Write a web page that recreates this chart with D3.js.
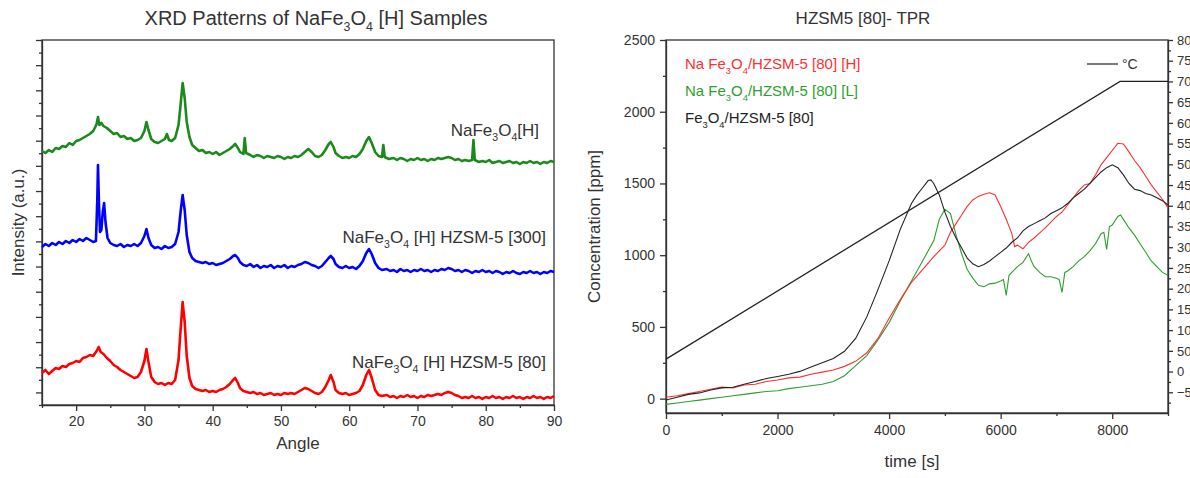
<!DOCTYPE html>
<html>
<head>
<meta charset="utf-8">
<script src="https://cdnjs.cloudflare.com/ajax/libs/d3/7.8.5/d3.min.js"></script>
<style>
  body { margin: 0; background: #fff; }
  svg text { font-family: "Liberation Sans", Arial, sans-serif; fill: #333; }
  .axis path, .axis line { stroke: #333; stroke-width: 1.3; }
  .axis text { font-size: 14px; fill: #333; }
</style>
</head>
<body>
<svg id="chart" width="1190" height="478"></svg>
<script>
// ---------- XRD data (angle, intensity a.u.) ----------
const xrdH = [[15,271],[15.5,269],[16,272],[16.5,270],[17,274],[17.5,273],[18,276],[18.5,275],[19,279],[19.5,277],
  [20,281],[20.5,282],[21,284],[21.5,286],[22,288],[22.5,291],[22.8,295],[23,298],[23.2,305],[23.4,297],[23.7,299],
  [24,296],[24.5,294],[25,291],[25.5,288],[26,289],[26.5,285],[27,286],[27.5,283],[28,284],[28.5,281],[29,282],
  [29.5,284],[30,291],[30.3,300],[30.6,292],[31,283],[31.5,280],[32,279],[32.5,281],[33,283],[33.3,288],[33.6,282],
  [34,281],[34.5,284],[35,297],[35.3,317],[35.6,339],[35.9,324],[36.2,300],[36.6,285],[37,277],[37.5,274],[38,271],
  [38.5,272],[39,269],[39.5,270],[40,268],[40.5,270],[41,267],[41.5,269],[42,271],[42.5,273],[43,276],[43.3,278],
  [43.7,274],[44,270],[44.5,268],[44.7,284],[44.9,269],[45.5,267],[46,265],[46.5,267],[47,266],[47.5,264],[48,266],
  [48.5,265],[49,264],[49.5,266],[50,265],[50.5,263],[51,265],[51.5,264],[52,266],[52.5,265],[53,267],[53.5,270],
  [54,273],[54.5,270],[55,266],[55.5,265],[56,267],[56.5,272],[57,278],[57.3,280],[57.7,275],[58,269],[58.5,266],
  [59,264],[59.5,265],[60,264],[60.5,266],[61,265],[61.5,268],[62,273],[62.5,281],[62.9,285],[63.3,279],[63.8,270],
  [64.3,266],[64.8,265],[65,277],[65.2,265],[65.8,263],[66.5,264],[67,262],[67.5,264],[68,263],[68.5,261],[69,263],
  [69.5,262],[70,264],[70.5,262],[71,263],[71.5,261],[72,263],[72.5,262],[73,264],[73.5,263],[74,264],[74.5,265],
  [75,264],[75.5,262],[76,263],[76.5,261],[77,262],[77.5,261],[78,262],[78.2,282],[78.4,262],[79,260],[79.5,261],
  [80,260],[80.5,262],[81,259],[81.5,260],[82,261],[82.5,259],[83,260],[83.5,261],[84,259],[84.5,260],[85,258],
  [85.5,260],[86,259],[86.5,261],[87,259],[87.5,260],[88,258],[88.5,260],[89,259],[89.5,261],[90,260]];

const xrdH300 = [[15,175],[15.5,178],[16,176],[16.5,179],[17,177],[17.5,180],[18,178],[18.5,181],[19,179],[19.5,182],
  [20,180],[20.5,183],[21,181],[21.5,184],[22,182],[22.5,180],[22.9,181],[23.1,222],[23.2,257],[23.35,217],[23.5,190],
  [23.7,192],[23.9,210],[24.1,219],[24.3,200],[24.6,184],[25,179],[25.5,177],[26,176],[26.5,178],[27,175],[27.5,177],
  [28,176],[28.5,178],[29,176],[29.5,179],[30,186],[30.3,193],[30.6,184],[31,177],[31.5,174],[32,175],[32.5,173],
  [33,176],[33.5,174],[34,175],[34.5,178],[35,190],[35.3,210],[35.6,227],[35.9,212],[36.2,187],[36.6,170],[37,164],
  [37.5,161],[38,160],[38.5,159],[39,160],[39.5,158],[40,159],[40.5,157],[41,158],[41.5,159],[42,161],[42.5,163],
  [43,166],[43.3,167],[43.7,164],[44,160],[44.5,157],[45,156],[45.5,158],[46,155],[46.5,157],[47,154],[47.5,156],
  [48,155],[48.5,157],[49,154],[49.5,156],[50,155],[50.5,157],[51,154],[51.5,156],[52,155],[52.5,157],[53,158],
  [53.5,160],[54,159],[54.5,157],[55,156],[55.5,154],[56,156],[56.5,160],[57,164],[57.3,166],[57.7,163],[58,158],
  [58.5,155],[59,154],[59.5,156],[60,154],[60.5,155],[61,153],[61.5,156],[62,161],[62.5,169],[62.9,173],[63.3,168],
  [63.8,159],[64.3,154],[64.8,152],[65.5,153],[66,151],[66.5,152],[67,150],[67.5,153],[68,151],[68.5,152],[69,150],
  [69.5,152],[70,151],[70.5,153],[71,151],[71.5,152],[72,150],[72.5,152],[73,151],[73.5,153],[74,152],[74.5,154],
  [75,153],[75.5,151],[76,152],[76.5,150],[77,152],[77.5,151],[78,149],[78.5,151],[79,150],[79.5,152],[80,150],
  [80.5,151],[81,149],[81.5,151],[82,150],[82.5,148],[83,150],[83.5,149],[84,151],[84.5,149],[85,148],[85.5,150],
  [86,149],[86.5,151],[87,149],[87.5,150],[88,148],[88.5,150],[89,149],[89.5,151],[90,150]];

const xrdH80 = [[15,49],[15.5,52],[16,48],[16.5,51],[17,54],[17.5,53],[18,56],[18.5,55],[19,58],[19.5,59],[20,61],
  [20.5,60],[21,64],[21.5,65],[22,67],[22.5,66],[23,71],[23.3,75],[23.6,70],[24,68],[24.5,64],[25,61],[25.5,57],
  [26,55],[26.5,52],[27,50],[27.5,48],[28,46],[28.5,44],[29,45],[29.5,50],[30,61],[30.3,73],[30.6,60],[31,45],
  [31.5,40],[32,38],[32.5,39],[33,37],[33.5,39],[34,38],[34.5,42],[35,62],[35.3,92],[35.6,120],[35.9,100],[36.2,66],
  [36.6,44],[37,36],[37.5,33],[38,32],[38.5,31],[39,32],[39.5,30],[40,31],[40.5,30],[41,32],[41.5,33],[42,35],
  [42.5,38],[43,42],[43.3,44],[43.7,39],[44,34],[44.5,31],[45,30],[45.5,29],[46,30],[46.5,28],[47,29],[47.5,27],
  [48,28],[48.5,29],[49,27],[49.5,28],[50,27],[50.5,29],[51,28],[51.5,29],[52,28],[52.5,30],[53,32],[53.5,34],
  [54,33],[54.5,31],[55,29],[55.5,28],[56,30],[56.5,35],[57,42],[57.3,47],[57.7,40],[58,32],[58.5,29],[59,28],
  [59.5,29],[60,27],[60.5,28],[61,29],[61.5,31],[62,37],[62.5,47],[62.9,52],[63.3,44],[63.8,32],[64.3,27],[64.8,26],
  [65.5,27],[66,25],[66.5,26],[67,24],[67.5,26],[68,25],[68.5,27],[69,25],[69.5,26],[70,24],[70.5,26],[71,25],
  [71.5,27],[72,26],[72.5,27],[73,28],[73.5,27],[74,29],[74.5,30],[75,29],[75.5,27],[76,26],[76.5,24],[77,25],
  [77.5,24],[78,26],[78.5,24],[79,25],[79.5,23],[80,25],[80.5,24],[81,26],[81.5,24],[82,25],[82.5,23],[83,25],
  [83.5,24],[84,26],[84.5,24],[85,25],[85.5,23],[86,25],[86.5,24],[87,26],[87.5,24],[88,25],[88.5,23],[89,25],
  [89.5,24],[90,26]];

const angleTicks = [20, 30, 40, 50, 60, 70, 80, 90];
const angleMinor = [15, 25, 35, 45, 55, 65, 75, 85];
const intensityRange = [17, 382];
const intensityTickCount = 29;

// ---------- TPR data (time s, concentration ppm) ----------
const tprH = [[0,10],[200,20],[400,35],[600,50],[800,65],[1000,80],[1200,75],[1400,95],[1600,100],[1800,120],
  [2000,130],[2200,145],[2400,150],[2600,170],[2800,185],[3000,200],[3200,225],[3400,260],[3600,320],[3800,420],
  [4000,560],[4200,690],[4400,810],[4600,900],[4800,990],[5000,1070],[5100,1160],[5200,1220],[5300,1280],[5400,1340],
  [5500,1385],[5600,1410],[5700,1425],[5800,1435],[5900,1420],[6000,1340],[6100,1250],[6200,1150],[6250,1060],
  [6300,1070],[6400,1045],[6500,1090],[6600,1120],[6700,1155],[6800,1190],[6900,1230],[7000,1270],[7100,1300],
  [7200,1350],[7300,1400],[7400,1450],[7500,1490],[7600,1500],[7700,1560],[7800,1630],[7900,1680],[8000,1730],
  [8100,1780],[8200,1775],[8300,1720],[8400,1660],[8500,1610],[8600,1550],[8700,1490],[8800,1440],[8900,1390],[9000,1330]];

const tprL = [[0,-40],[200,-30],[400,-20],[600,-10],[800,0],[1000,10],[1200,20],[1400,30],[1600,40],[1800,50],
  [2000,55],[2200,70],[2400,80],[2600,90],[2800,100],[3000,120],[3200,160],[3400,230],[3600,300],[3800,410],
  [4000,530],[4200,680],[4400,820],[4600,960],[4800,1100],[4900,1250],[5000,1320],[5100,1290],[5200,1140],
  [5300,1010],[5400,900],[5500,840],[5600,790],[5700,780],[5800,800],[5900,805],[6000,820],[6050,830],[6100,720],
  [6150,860],[6200,880],[6300,920],[6400,950],[6500,1010],[6550,960],[6600,920],[6700,880],[6800,850],[6900,850],
  [7000,840],[7050,830],[7100,740],[7150,880],[7200,890],[7300,920],[7400,960],[7500,990],[7600,1030],[7700,1080],
  [7800,1150],[7850,1160],[7900,1040],[7950,1200],[8000,1210],[8100,1270],[8150,1280],[8200,1250],[8300,1190],
  [8400,1140],[8500,1080],[8600,1020],[8700,960],[8800,920],[8900,880],[9000,860]];

const tprFe = [[0,-10],[200,10],[400,30],[600,40],[800,60],[1000,75],[1200,80],[1400,100],[1600,120],[1800,140],
  [2000,155],[2200,170],[2400,190],[2600,220],[2800,250],[3000,280],[3200,330],[3400,420],[3600,570],[3800,760],
  [4000,960],[4200,1180],[4400,1360],[4500,1420],[4600,1470],[4700,1520],[4750,1525],[4800,1500],[4900,1420],
  [5000,1300],[5100,1200],[5200,1120],[5300,1050],[5400,980],[5500,940],[5600,920],[5700,935],[5800,960],[5900,990],
  [6000,1020],[6100,1050],[6200,1090],[6300,1120],[6400,1170],[6500,1200],[6600,1220],[6700,1240],[6800,1260],
  [6900,1290],[7000,1310],[7100,1330],[7200,1360],[7300,1400],[7400,1430],[7500,1460],[7600,1500],[7700,1540],
  [7800,1580],[7900,1610],[8000,1630],[8100,1610],[8200,1560],[8300,1500],[8400,1460],[8500,1450],[8600,1430],
  [8700,1420],[8800,1400],[8900,1380],[9000,1350]];

const tempProgram = [[0,30],[8140,700],[9000,700]];

const timeTicks = [0, 2000, 4000, 6000, 8000];
const timeMinor = [1000, 3000, 5000, 7000, 9000];
const concTicks = [0, 500, 1000, 1500, 2000, 2500];
const concMinor = [250, 750, 1250, 1750, 2250];
const tempTicks = d3.range(-50, 801, 50);
const tempMinor = d3.range(-75, 801, 50);

const svg = d3.select('#chart');

// write text with subscripts: parts = [[text, isSub], ...]
function richText(sel, parts, size) {
    sel.style('font-size', size + 'px');
    parts.forEach(([t, sub], i) => {
        const prevSub = i > 0 && parts[i - 1][1];
        let dy = 0;
        if (sub && !prevSub) dy = size * 0.3;
        if (!sub && prevSub) dy = -size * 0.3;
        sel.append('tspan').attr('dy', dy).style('font-size', (sub ? size * 0.62 : size) + 'px').text(t);
    });
    return sel;
}

function styleAxis(g) {
    g.attr('class', 'axis');
    g.selectAll('text').attr('fill', '#333');
}
const plain = d3.format('d');

// ================= left: XRD =================
const L = { left: 42, right: 554, top: 40, bottom: 405 };
const xA = d3.scaleLinear().domain([15, 90]).range([L.left, L.right]);
const yI = d3.scaleLinear().domain(intensityRange).range([L.bottom, L.top]);

const left = svg.append('g');

left.append('g').attr('transform', `translate(0,${L.bottom})`)
    .call(d3.axisBottom(xA).tickValues(angleTicks).tickSize(6).tickPadding(5).tickSizeOuter(0))
    .call(styleAxis);
left.append('g').attr('transform', `translate(0,${L.bottom})`)
    .call(d3.axisBottom(xA).tickValues(angleMinor).tickSize(3).tickFormat('').tickSizeOuter(0))
    .call(styleAxis).call(g => g.select('.domain').remove());

const span = intensityRange[1] - intensityRange[0];
const iTicks = d3.range(intensityTickCount + 1).map(i => intensityRange[0] + i * span / intensityTickCount);
left.append('g').attr('transform', `translate(${L.left},0)`)
    .call(d3.axisLeft(yI).tickValues(iTicks.filter((d, i) => i % 2 === 1)).tickSize(6).tickFormat('').tickSizeOuter(0))
    .call(styleAxis);
left.append('g').attr('transform', `translate(${L.left},0)`)
    .call(d3.axisLeft(yI).tickValues(iTicks.filter((d, i) => i % 2 === 0)).tickSize(3).tickFormat('').tickSizeOuter(0))
    .call(styleAxis).call(g => g.select('.domain').remove());

left.append('rect').attr('x', L.left).attr('y', L.top)
    .attr('width', L.right - L.left).attr('height', L.bottom - L.top)
    .attr('fill', 'none').attr('stroke', '#333').attr('stroke-width', 1.3);

const xrdLine = d3.line().x(d => xA(d[0])).y(d => yI(d[1]));
[[xrdH, '#1a8a1a'], [xrdH300, '#0000ff'], [xrdH80, '#ff0000']].forEach(([data, color]) => {
    left.append('path').datum(data).attr('d', xrdLine)
        .attr('fill', 'none').attr('stroke', color).attr('stroke-width', 2.6)
        .attr('stroke-linejoin', 'round');
});

richText(left.append('text').attr('x', 316).attr('y', 25).attr('text-anchor', 'middle'),
    [['XRD Patterns of NaFe', 0], ['3', 1], ['O', 0], ['4', 1], [' [H] Samples', 0]], 20);

richText(left.append('text').attr('x', 539).attr('y', 136).attr('text-anchor', 'end'),
    [['NaFe', 0], ['3', 1], ['O', 0], ['4', 1], ['[H]', 0]], 17);
richText(left.append('text').attr('x', 546).attr('y', 243).attr('text-anchor', 'end'),
    [['NaFe', 0], ['3', 1], ['O', 0], ['4', 1], [' [H] HZSM-5 [300]', 0]], 17);
richText(left.append('text').attr('x', 546).attr('y', 368).attr('text-anchor', 'end'),
    [['NaFe', 0], ['3', 1], ['O', 0], ['4', 1], [' [H] HZSM-5 [80]', 0]], 17);

left.append('text').attr('x', 298).attr('y', 449).attr('text-anchor', 'middle')
    .style('font-size', '17px').text('Angle');
left.append('text').attr('transform', `translate(24,${(L.top + L.bottom) / 2}) rotate(-90)`)
    .attr('text-anchor', 'middle').style('font-size', '17px').text('Intensity (a.u.)');

// ================= right: TPR =================
const R = { left: 666, right: 1168, top: 40, bottom: 413 };
const xT = d3.scaleLinear().domain([0, 9000]).range([R.left, R.right]);
const yC = d3.scaleLinear().domain([-100, 2500]).range([R.bottom, R.top]);
const yTemp = d3.scaleLinear().domain([-100, 800]).range([R.bottom, R.top]);

const right = svg.append('g');

right.append('g').attr('transform', `translate(0,${R.bottom})`)
    .call(d3.axisBottom(xT).tickValues(timeTicks).tickFormat(plain).tickSize(6).tickPadding(6).tickSizeOuter(0))
    .call(styleAxis);
right.append('g').attr('transform', `translate(0,${R.bottom})`)
    .call(d3.axisBottom(xT).tickValues(timeMinor).tickSize(3).tickFormat('').tickSizeOuter(0))
    .call(styleAxis).call(g => g.select('.domain').remove());

right.append('g').attr('transform', `translate(${R.left},0)`)
    .call(d3.axisLeft(yC).tickValues(concTicks).tickFormat(plain).tickSize(6).tickPadding(5).tickSizeOuter(0))
    .call(styleAxis);
right.append('g').attr('transform', `translate(${R.left},0)`)
    .call(d3.axisLeft(yC).tickValues(concMinor).tickSize(3).tickFormat('').tickSizeOuter(0))
    .call(styleAxis).call(g => g.select('.domain').remove());

right.append('g').attr('transform', `translate(${R.right},0)`)
    .call(d3.axisRight(yTemp).tickValues(tempTicks).tickFormat(plain).tickSize(5).tickPadding(4).tickSizeOuter(0))
    .call(styleAxis).call(g => g.selectAll('text').style('font-size', '13px'));
right.append('g').attr('transform', `translate(${R.right},0)`)
    .call(d3.axisRight(yTemp).tickValues(tempMinor).tickSize(3).tickFormat('').tickSizeOuter(0))
    .call(styleAxis).call(g => g.select('.domain').remove());

right.append('rect').attr('x', R.left).attr('y', R.top)
    .attr('width', R.right - R.left).attr('height', R.bottom - R.top)
    .attr('fill', 'none').attr('stroke', '#333').attr('stroke-width', 1.3);

const tprLine = d3.line().x(d => xT(d[0])).y(d => yC(d[1]));
[[tprL, '#2e9e2e'], [tprH, '#ff3030'], [tprFe, '#222']].forEach(([data, color]) => {
    right.append('path').datum(data).attr('d', tprLine)
        .attr('fill', 'none').attr('stroke', color).attr('stroke-width', 1.1);
});

const tempLine = d3.line().x(d => xT(d[0])).y(d => yTemp(d[1]));
right.append('path').datum(tempProgram).attr('d', tempLine)
    .attr('fill', 'none').attr('stroke', '#222').attr('stroke-width', 1.3);

// legend
const legendItems = [
    { parts: [['Na Fe', 0], ['3', 1], ['O', 0], ['4', 1], ['/HZSM-5 [80] [H]', 0]], color: '#ff3030' },
    { parts: [['Na Fe', 0], ['3', 1], ['O', 0], ['4', 1], ['/HZSM-5 [80] [L]', 0]], color: '#2e9e2e' },
    { parts: [['Fe', 0], ['3', 1], ['O', 0], ['4', 1], ['/HZSM-5 [80]', 0]], color: '#222' }
];
legendItems.forEach((item, i) => {
    richText(right.append('text').attr('x', 685).attr('y', 69 + i * 27).style('fill', item.color),
        item.parts, 15);
});
right.append('line').attr('x1', 1087).attr('x2', 1118).attr('y1', 64).attr('y2', 64)
    .attr('stroke', '#222').attr('stroke-width', 1.2);
right.append('text').attr('x', 1122).attr('y', 69).style('font-size', '14px').text('°C');

right.append('text').attr('x', 863).attr('y', 24).attr('text-anchor', 'middle')
    .style('font-size', '17px').text('HZSM5 [80]- TPR');
right.append('text').attr('x', 912).attr('y', 467).attr('text-anchor', 'middle')
    .style('font-size', '17px').text('time [s]');
right.append('text').attr('transform', `translate(600,${(R.top + R.bottom) / 2}) rotate(-90)`)
    .attr('text-anchor', 'middle').style('font-size', '17px').text('Concentration [ppm]');
</script>
</body>
</html>
